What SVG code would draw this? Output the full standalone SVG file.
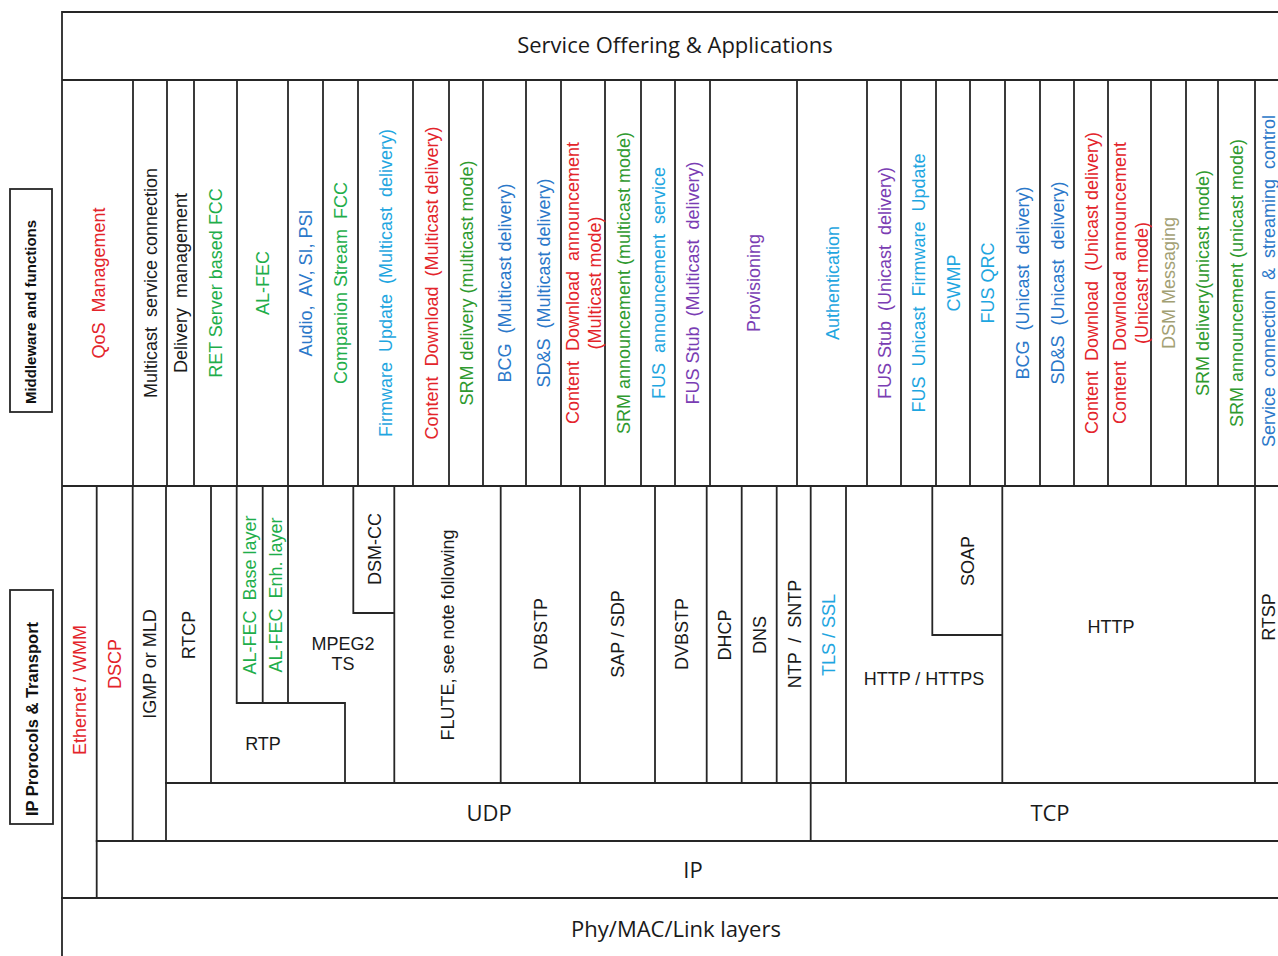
<svg xmlns="http://www.w3.org/2000/svg" width="1278" height="956" viewBox="0 0 1278 956">
<style>
  .ln{stroke:#262626;stroke-width:1.8;fill:none;stroke-linecap:square}
  .bx{stroke:#262626;stroke-width:1.8;fill:#fff}
  text{font-family:"Liberation Sans",Arial,sans-serif;font-size:18px;white-space:pre}
  .v{text-anchor:middle}
  .cal{font-family:"Open Sans","Noto Sans",sans-serif;font-size:22px;fill:#1a1a1a;text-anchor:middle}
  .lab{font-family:"Liberation Sans",Arial,sans-serif;font-weight:bold;font-size:15px;fill:#111;text-anchor:middle}
  .k{fill:#1a1a1a}
  .red{fill:#e3242b}
  .grn{fill:#1fae4b}
  .dgr{fill:#2f9a2f}
  .blu{fill:#2b78c9}
  .cyn{fill:#1fa6e0}
  .pur{fill:#7a3db3}
  .oli{fill:#a39f74}
</style>
<rect x="0" y="0" width="1278" height="956" fill="#fff"/>

<!-- left side labels -->
<g id="label-middleware">
  <rect class="bx" x="10" y="189" width="42" height="223"/>
  <text class="lab" transform="translate(36,312) rotate(-90)">Middleware and functions</text>
</g>
<g id="label-ip">
  <rect class="bx" x="10" y="590" width="43" height="234"/>
  <text class="lab" style="font-size:16.5px" transform="translate(37.5,719) rotate(-90)">IP Prorocols &amp; Transport</text>
</g>

<!-- frame lines -->
<g id="connectors">
  <path class="ln" d="M62,12 H1280 M62,12 V958 M62,80 H1280 M62,486 H1280"/>
  <path class="ln" d="M166,783 H1280 M96.7,841 H1280 M62,898 H1280"/>
  <path class="ln" d="M133,80 V486 M167,80 V486 M194,80 V486 M237,80 V486 M288,80 V486 M323,80 V486 M358,80 V486 M413,80 V486 M449,80 V486 M483,80 V486 M526,80 V486 M561,80 V486 M605,80 V486 M641,80 V486 M675,80 V486 M710,80 V486 M797,80 V486 M867,80 V486 M901,80 V486 M936,80 V486 M970,80 V486 M1005,80 V486 M1040,80 V486 M1074,80 V486 M1108,80 V486 M1151,80 V486 M1186,80 V486 M1218,80 V486 M1255,80 V486"/>
  <path class="ln" d="M96.7,486 V898 M132.7,486 V841 M166,486 V841 M211,486 V783"/>
  <path class="ln" d="M236.7,486 V703 M262.7,486 V703 M288,486 V703 M236.7,703 H345 V783"/>
  <path class="ln" d="M353.3,486 V613 H394.3 M394.3,486 V783"/>
  <path class="ln" d="M500.7,486 V783 M580,486 V783 M655,486 V783 M706.7,486 V783 M741.7,486 V783 M776.7,486 V783 M810.7,486 V841 M846,486 V783"/>
  <path class="ln" d="M932.3,486 V635 H1002.3 M1002.3,486 V783 M1255,486 V783"/>
</g>

<g id="service-offering"><text class="cal" x="675" y="53">Service Offering &amp; Applications</text></g>

<!-- middleware nodes -->
<g id="mw-qos"><text class="v red" transform="translate(98,283) rotate(-90)" dy="6.5">QoS  Management</text></g>
<g id="mw-multicast-service"><text class="v k" transform="translate(150,283) rotate(-90)" dy="6.5">Multicast  service connection</text></g>
<g id="mw-delivery"><text class="v k" transform="translate(180.5,283) rotate(-90)" dy="6.5">Delivery  management</text></g>
<g id="mw-ret"><text class="v grn" transform="translate(215.5,283) rotate(-90)" dy="6.5">RET Server based FCC</text></g>
<g id="mw-alfec"><text class="v grn" transform="translate(262.5,283) rotate(-90)" dy="6.5">AL-FEC</text></g>
<g id="mw-audio"><text class="v blu" transform="translate(305.5,283) rotate(-90)" dy="6.5">Audio,  AV, SI, PSI</text></g>
<g id="mw-companion"><text class="v grn" transform="translate(340.5,283) rotate(-90)" dy="6.5">Companion Stream  FCC</text></g>
<g id="mw-firmware"><text class="v cyn" transform="translate(385.5,283) rotate(-90)" dy="6.5">Firmware  Update  (Multicast  delivery)</text></g>
<g id="mw-cd-multicast"><text class="v red" transform="translate(431,283) rotate(-90)" dy="6.5">Content  Download  (Multicast delivery)</text></g>
<g id="mw-srm-delivery-mc"><text class="v dgr" transform="translate(466,283) rotate(-90)" dy="6.5">SRM delivery (multicast mode)</text></g>
<g id="mw-bcg-mc"><text class="v blu" transform="translate(504.5,283) rotate(-90)" dy="6.5">BCG  (Multicast delivery)</text></g>
<g id="mw-sds-mc"><text class="v blu" transform="translate(543.5,283) rotate(-90)" dy="6.5">SD&amp;S  (Multicast delivery)</text></g>
<g id="mw-cd-ann-mc"><text class="v red" transform="translate(583,283) rotate(-90)"><tspan x="0" y="-4">Content  Download  announcement</tspan><tspan x="0" y="18">(Multicast mode)</tspan></text></g>
<g id="mw-srm-ann-mc"><text class="v dgr" transform="translate(623,283) rotate(-90)" dy="6.5">SRM announcement (multicast mode)</text></g>
<g id="mw-fus-ann"><text class="v cyn" transform="translate(658,283) rotate(-90)" dy="6.5">FUS  announcement  service</text></g>
<g id="mw-fus-stub-mc"><text class="v pur" transform="translate(692.5,283) rotate(-90)" dy="6.5">FUS Stub  (Multicast  delivery)</text></g>
<g id="mw-provisioning"><text class="v pur" transform="translate(753.5,283) rotate(-90)" dy="6.5">Provisioning</text></g>
<g id="mw-authentication"><text class="v cyn" transform="translate(832,283) rotate(-90)" dy="6.5">Authentication</text></g>
<g id="mw-fus-stub-uc"><text class="v pur" transform="translate(884,283) rotate(-90)" dy="6.5">FUS Stub  (Unicast  delivery)</text></g>
<g id="mw-fus-unicast"><text class="v cyn" transform="translate(918.5,283) rotate(-90)" dy="6.5">FUS  Unicast  Firmware  Update</text></g>
<g id="mw-cwmp"><text class="v cyn" transform="translate(953,283) rotate(-90)" dy="6.5">CWMP</text></g>
<g id="mw-fus-qrc"><text class="v cyn" transform="translate(987.5,283) rotate(-90)" dy="6.5">FUS QRC</text></g>
<g id="mw-bcg-uc"><text class="v blu" transform="translate(1022.5,283) rotate(-90)" dy="6.5">BCG  (Unicast  delivery)</text></g>
<g id="mw-sds-uc"><text class="v blu" transform="translate(1057,283) rotate(-90)" dy="6.5">SD&amp;S  (Unicast  delivery)</text></g>
<g id="mw-cd-uc"><text class="v red" transform="translate(1091,283) rotate(-90)" dy="6.5">Content  Download  (Unicast delivery)</text></g>
<g id="mw-cd-ann-uc"><text class="v red" transform="translate(1129.5,283) rotate(-90)"><tspan x="0" y="-4">Content  Download  announcement</tspan><tspan x="0" y="18">(Unicast mode)</tspan></text></g>
<g id="mw-dsm"><text class="v oli" transform="translate(1168.5,283) rotate(-90)" dy="6.5">DSM Messaging</text></g>
<g id="mw-srm-delivery-uc"><text class="v dgr" transform="translate(1202,283) rotate(-90)" dy="6.5">SRM delivery(unicast mode)</text></g>
<g id="mw-srm-ann-uc"><text class="v dgr" transform="translate(1236.5,283) rotate(-90)" dy="6.5">SRM announcement (unicast mode)</text></g>
<g id="mw-service-conn"><text class="v blu" transform="translate(1268,281) rotate(-90)" dy="6.5">Service  connection  &amp;  streaming  control</text></g>

<!-- protocol nodes -->
<g id="p-ethernet"><text class="v red" transform="translate(79.5,690) rotate(-90)" dy="6.5">Ethernet / WMM</text></g>
<g id="p-dscp"><text class="v red" transform="translate(114.7,664) rotate(-90)" dy="6.5">DSCP</text></g>
<g id="p-igmp"><text class="v k" transform="translate(149.5,664) rotate(-90)" dy="6.5">IGMP or MLD</text></g>
<g id="p-rtcp"><text class="v k" transform="translate(188.5,635) rotate(-90)" dy="6.5">RTCP</text></g>
<g id="p-alfec-base"><text class="v grn" transform="translate(249.7,595) rotate(-90)" dy="6.5">AL-FEC  Base layer</text></g>
<g id="p-alfec-enh"><text class="v grn" transform="translate(275.3,595) rotate(-90)" dy="6.5">AL-FEC  Enh. layer</text></g>
<g id="p-mpeg2ts"><text class="v k" x="343" y="650">MPEG2</text><text class="v k" x="343" y="670">TS</text></g>
<g id="p-dsmcc"><text class="v k" transform="translate(374,549) rotate(-90)" dy="6.5">DSM-CC</text></g>
<g id="p-rtp"><text class="v k" x="263" y="749.5">RTP</text></g>
<g id="p-flute"><text class="v k" transform="translate(447.5,635) rotate(-90)" dy="6.5">FLUTE, see note following</text></g>
<g id="p-dvbstp1"><text class="v k" transform="translate(540,634) rotate(-90)" dy="6.5">DVBSTP</text></g>
<g id="p-sap"><text class="v k" transform="translate(617.5,634) rotate(-90)" dy="6.5">SAP / SDP</text></g>
<g id="p-dvbstp2"><text class="v k" transform="translate(681,634) rotate(-90)" dy="6.5">DVBSTP</text></g>
<g id="p-dhcp"><text class="v k" transform="translate(724,635) rotate(-90)" dy="6.5">DHCP</text></g>
<g id="p-dns"><text class="v k" transform="translate(759,635) rotate(-90)" dy="6.5">DNS</text></g>
<g id="p-ntp"><text class="v k" transform="translate(794,634) rotate(-90)" dy="6.5">NTP  /  SNTP</text></g>
<g id="p-tls"><text class="v cyn" transform="translate(828,635) rotate(-90)" dy="6.5">TLS / SSL</text></g>
<g id="p-http-https"><text class="v k" x="924" y="684.5">HTTP / HTTPS</text></g>
<g id="p-soap"><text class="v k" transform="translate(967,561) rotate(-90)" dy="6.5">SOAP</text></g>
<g id="p-http"><text class="v k" x="1111" y="632.5">HTTP</text></g>
<g id="p-rtsp"><text class="v k" transform="translate(1268.5,617) rotate(-90)" dy="6.5">RTSP</text></g>

<g id="p-udp"><text class="cal" x="489" y="821">UDP</text></g>
<g id="p-tcp"><text class="cal" x="1050" y="821">TCP</text></g>
<g id="p-ip"><text class="cal" x="693" y="878">IP</text></g>
<g id="p-phy"><text class="cal" x="676" y="937">Phy/MAC/Link layers</text></g>
</svg>
